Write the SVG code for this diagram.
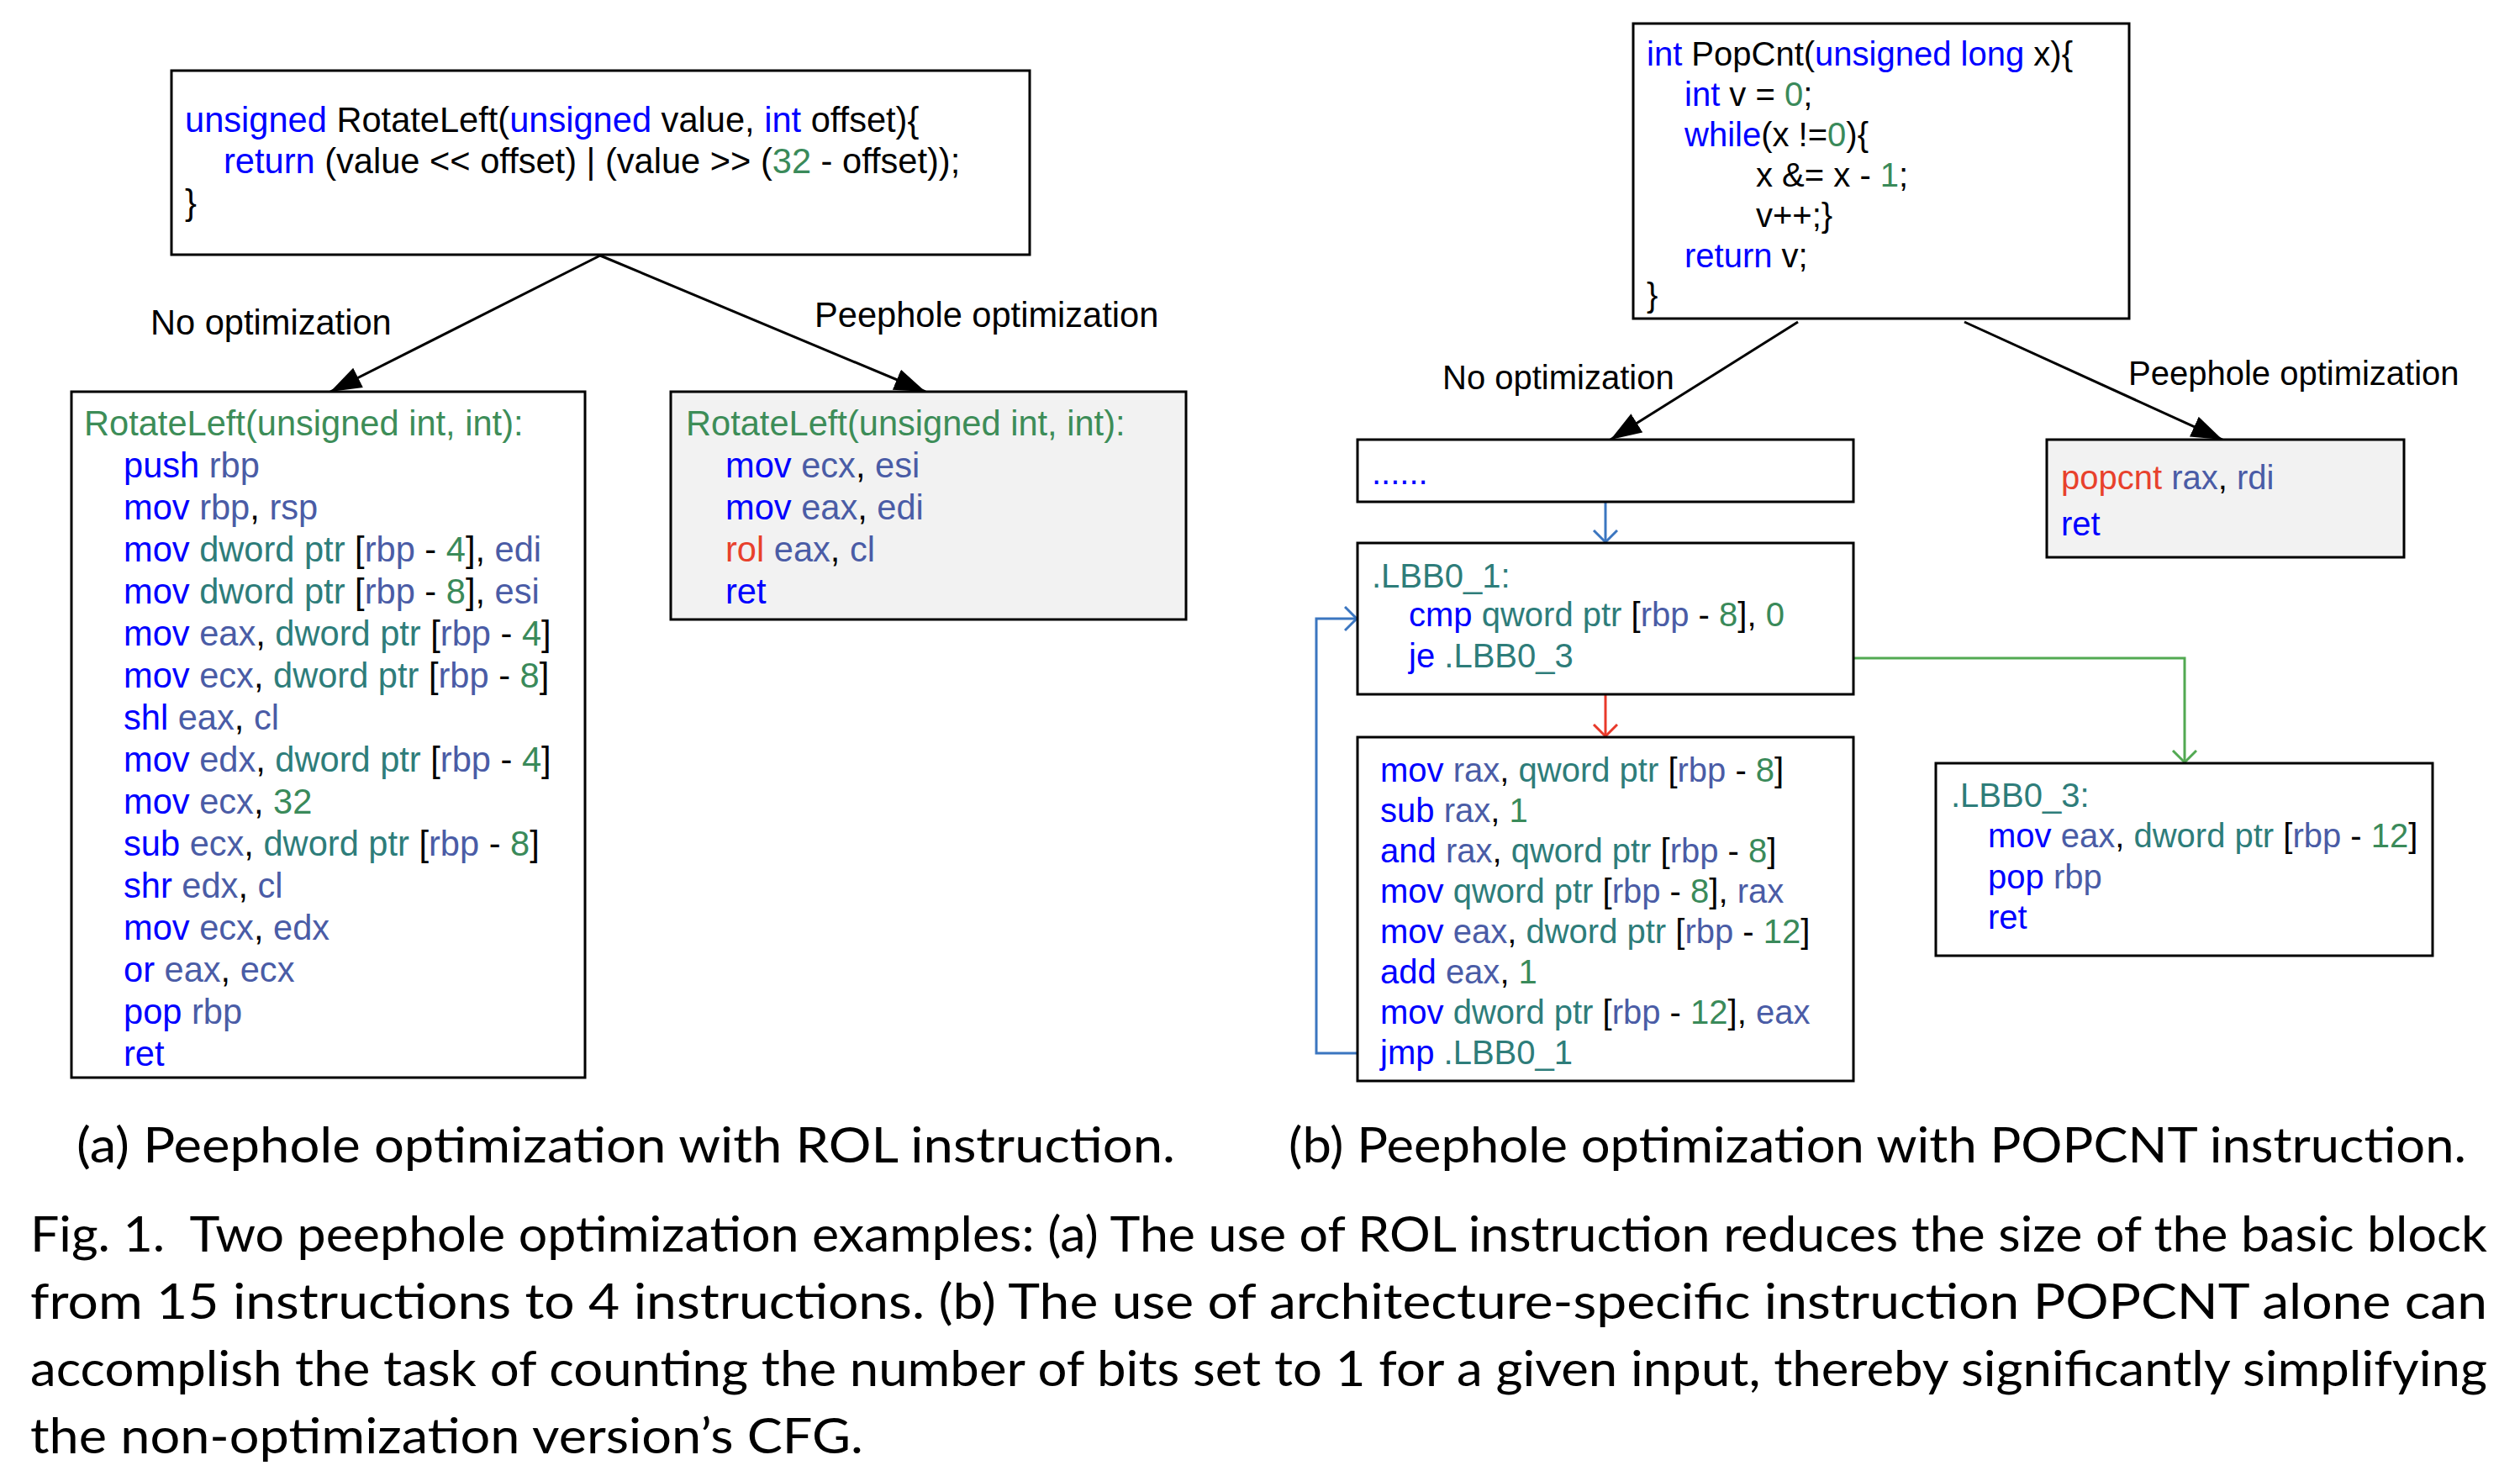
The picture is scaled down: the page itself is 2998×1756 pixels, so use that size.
<svg xmlns="http://www.w3.org/2000/svg" width="2998" height="1756" viewBox="0 0 2998 1756">
<style>
text{font-family:"Liberation Sans",Arial,Helvetica,sans-serif;font-size:41.6px;fill:#000}
.r40 text, text.s40{font-size:40px}
.k{fill:#0000ff}
.g{fill:#4a5ca6}
.n{fill:#3a8a5a}
.t{fill:#2e7d7a}
.h{fill:#3d8d58}
.red{fill:#e8412c}
.box{fill:#fff;stroke:#000;stroke-width:3}
.grey{fill:#f2f2f2}
.cap{font-family:Lato,"Open Sans","Liberation Sans",sans-serif;font-size:58px;fill:#000}
.blk{stroke:#000;stroke-width:3;fill:none}
</style>
<defs>
<marker id="ab" markerUnits="userSpaceOnUse" markerWidth="40" markerHeight="28" refX="37" refY="13" orient="auto"><path d="M0,0 L37,13 L0,26 z" fill="#000"/></marker>
<marker id="vb" markerUnits="userSpaceOnUse" markerWidth="20" markerHeight="32" refX="15" refY="15" orient="auto"><path d="M1,1 L15,15 L1,29" fill="none" stroke="#3b76c0" stroke-width="3"/></marker>
<marker id="vr" markerUnits="userSpaceOnUse" markerWidth="20" markerHeight="32" refX="15" refY="15" orient="auto"><path d="M1,1 L15,15 L1,29" fill="none" stroke="#e8392a" stroke-width="3"/></marker>
<marker id="vg" markerUnits="userSpaceOnUse" markerWidth="20" markerHeight="32" refX="15" refY="15" orient="auto"><path d="M1,1 L15,15 L1,29" fill="none" stroke="#52a952" stroke-width="3"/></marker>
</defs>
<rect width="2998" height="1756" fill="#fff"/>

<g id="connectors">
<line class="blk" x1="714" y1="304" x2="393" y2="466" marker-end="url(#ab)"/>
<line class="blk" x1="714" y1="304" x2="1101" y2="466" marker-end="url(#ab)"/>
<line class="blk" x1="2139" y1="383" x2="1916" y2="523" marker-end="url(#ab)"/>
<line class="blk" x1="2337" y1="383" x2="2644" y2="523" marker-end="url(#ab)"/>
<line x1="1910" y1="597" x2="1910" y2="645" stroke="#3b76c0" stroke-width="3" marker-end="url(#vb)"/>
<line x1="1910" y1="826" x2="1910" y2="876" stroke="#e8392a" stroke-width="3" marker-end="url(#vr)"/>
<polyline points="1615,1253 1566,1253 1566,736 1614,736" fill="none" stroke="#3b76c0" stroke-width="3" marker-end="url(#vb)"/>
<polyline points="2205,783 2599,783 2599,907" fill="none" stroke="#52a952" stroke-width="3" marker-end="url(#vg)"/>
</g>

<g id="edge-labels">
<text x="179" y="398">No optimization</text>
<text x="969" y="389">Peephole optimization</text>
<text x="1716" y="463" class="s40">No optimization</text>
<text x="2532" y="458" class="s40">Peephole optimization</text>
</g>

<g id="src-rotateleft">
<rect class="box" x="204" y="84" width="1021" height="219"/>
<text x="220" y="157"><tspan class="k">unsigned</tspan> RotateLeft(<tspan class="k">unsigned</tspan> value, <tspan class="k">int</tspan> offset){</text>
<text x="266" y="206"><tspan class="k">return</tspan> (value &lt;&lt; offset) | (value &gt;&gt; (<tspan class="n">32</tspan> - offset));</text>
<text x="220" y="255">}</text>
</g>

<g id="asm-noopt-rol">
<rect class="box" x="85" y="466" width="611" height="816"/>
<text x="100" y="518" class="h">RotateLeft(unsigned int, int):</text>
<text x="147" y="568"><tspan class="k">push</tspan> <tspan class="g">rbp</tspan></text>
<text x="147" y="618"><tspan class="k">mov</tspan> <tspan class="g">rbp</tspan>, <tspan class="g">rsp</tspan></text>
<text x="147" y="668"><tspan class="k">mov</tspan> <tspan class="t">dword ptr</tspan> [<tspan class="g">rbp</tspan> - <tspan class="n">4</tspan>], <tspan class="g">edi</tspan></text>
<text x="147" y="718"><tspan class="k">mov</tspan> <tspan class="t">dword ptr</tspan> [<tspan class="g">rbp</tspan> - <tspan class="n">8</tspan>], <tspan class="g">esi</tspan></text>
<text x="147" y="768"><tspan class="k">mov</tspan> <tspan class="g">eax</tspan>, <tspan class="t">dword ptr</tspan> [<tspan class="g">rbp</tspan> - <tspan class="n">4</tspan>]</text>
<text x="147" y="818"><tspan class="k">mov</tspan> <tspan class="g">ecx</tspan>, <tspan class="t">dword ptr</tspan> [<tspan class="g">rbp</tspan> - <tspan class="n">8</tspan>]</text>
<text x="147" y="868"><tspan class="k">shl</tspan> <tspan class="g">eax</tspan>, <tspan class="g">cl</tspan></text>
<text x="147" y="918"><tspan class="k">mov</tspan> <tspan class="g">edx</tspan>, <tspan class="t">dword ptr</tspan> [<tspan class="g">rbp</tspan> - <tspan class="n">4</tspan>]</text>
<text x="147" y="968"><tspan class="k">mov</tspan> <tspan class="g">ecx</tspan>, <tspan class="n">32</tspan></text>
<text x="147" y="1018"><tspan class="k">sub</tspan> <tspan class="g">ecx</tspan>, <tspan class="t">dword ptr</tspan> [<tspan class="g">rbp</tspan> - <tspan class="n">8</tspan>]</text>
<text x="147" y="1068"><tspan class="k">shr</tspan> <tspan class="g">edx</tspan>, <tspan class="g">cl</tspan></text>
<text x="147" y="1118"><tspan class="k">mov</tspan> <tspan class="g">ecx</tspan>, <tspan class="g">edx</tspan></text>
<text x="147" y="1168"><tspan class="k">or</tspan> <tspan class="g">eax</tspan>, <tspan class="g">ecx</tspan></text>
<text x="147" y="1218"><tspan class="k">pop</tspan> <tspan class="g">rbp</tspan></text>
<text x="147" y="1268" class="k">ret</text>
</g>

<g id="asm-peephole-rol">
<rect class="box grey" x="798" y="466" width="613" height="271"/>
<text x="816" y="518" class="h">RotateLeft(unsigned int, int):</text>
<text x="863" y="568"><tspan class="k">mov</tspan> <tspan class="g">ecx</tspan>, <tspan class="g">esi</tspan></text>
<text x="863" y="618"><tspan class="k">mov</tspan> <tspan class="g">eax</tspan>, <tspan class="g">edi</tspan></text>
<text x="863" y="668"><tspan class="red">rol</tspan> <tspan class="g">eax</tspan>, <tspan class="g">cl</tspan></text>
<text x="863" y="718" class="k">ret</text>
</g>

<g class="r40">
<g id="src-popcnt">
<rect class="box" x="1943" y="28" width="590" height="351"/>
<text x="1959" y="78"><tspan class="k">int</tspan> PopCnt(<tspan class="k">unsigned long</tspan> x){</text>
<text x="2004" y="126"><tspan class="k">int</tspan> v = <tspan class="n">0</tspan>;</text>
<text x="2004" y="174"><tspan class="k">while</tspan>(x !=<tspan class="n">0</tspan>){</text>
<text x="2089" y="222">x &amp;= x - <tspan class="n">1</tspan>;</text>
<text x="2089" y="270">v++;}</text>
<text x="2004" y="318"><tspan class="k">return</tspan> v;</text>
<text x="1959" y="365">}</text>
</g>

<g id="asm-noopt-entry">
<rect class="box" x="1615" y="523" width="590" height="74"/>
<text x="1632" y="576" class="k">......</text>
</g>

<g id="asm-peephole-popcnt">
<rect class="box grey" x="2435" y="523" width="425" height="140"/>
<text x="2452" y="582"><tspan class="red">popcnt</tspan> <tspan class="g">rax</tspan>, <tspan class="g">rdi</tspan></text>
<text x="2452" y="637" class="k">ret</text>
</g>

<g id="asm-lbb0-1">
<rect class="box" x="1615" y="646" width="590" height="180"/>
<text x="1632" y="699" class="t">.LBB0_1:</text>
<text x="1676" y="745"><tspan class="k">cmp</tspan> <tspan class="t">qword ptr</tspan> [<tspan class="g">rbp</tspan> - <tspan class="n">8</tspan>], <tspan class="n">0</tspan></text>
<text x="1676" y="794"><tspan class="k">je</tspan> <tspan class="t">.LBB0_3</tspan></text>
</g>

<g id="asm-loop-body">
<rect class="box" x="1615" y="877" width="590" height="409"/>
<text x="1642" y="930"><tspan class="k">mov</tspan> <tspan class="g">rax</tspan>, <tspan class="t">qword ptr</tspan> [<tspan class="g">rbp</tspan> - <tspan class="n">8</tspan>]</text>
<text x="1642" y="978"><tspan class="k">sub</tspan> <tspan class="g">rax</tspan>, <tspan class="n">1</tspan></text>
<text x="1642" y="1026"><tspan class="k">and</tspan> <tspan class="g">rax</tspan>, <tspan class="t">qword ptr</tspan> [<tspan class="g">rbp</tspan> - <tspan class="n">8</tspan>]</text>
<text x="1642" y="1074"><tspan class="k">mov</tspan> <tspan class="t">qword ptr</tspan> [<tspan class="g">rbp</tspan> - <tspan class="n">8</tspan>], <tspan class="g">rax</tspan></text>
<text x="1642" y="1122"><tspan class="k">mov</tspan> <tspan class="g">eax</tspan>, <tspan class="t">dword ptr</tspan> [<tspan class="g">rbp</tspan> - <tspan class="n">12</tspan>]</text>
<text x="1642" y="1170"><tspan class="k">add</tspan> <tspan class="g">eax</tspan>, <tspan class="n">1</tspan></text>
<text x="1642" y="1218"><tspan class="k">mov</tspan> <tspan class="t">dword ptr</tspan> [<tspan class="g">rbp</tspan> - <tspan class="n">12</tspan>], <tspan class="g">eax</tspan></text>
<text x="1642" y="1266"><tspan class="k">jmp</tspan> <tspan class="t">.LBB0_1</tspan></text>
</g>

<g id="asm-lbb0-3">
<rect class="box" x="2303" y="908" width="591" height="229"/>
<text x="2321" y="960" class="t">.LBB0_3:</text>
<text x="2365" y="1008"><tspan class="k">mov</tspan> <tspan class="g">eax</tspan>, <tspan class="t">dword ptr</tspan> [<tspan class="g">rbp</tspan> - <tspan class="n">12</tspan>]</text>
<text x="2365" y="1057"><tspan class="k">pop</tspan> <tspan class="g">rbp</tspan></text>
<text x="2365" y="1105" class="k">ret</text>
</g>
</g>

<g id="captions">
<text class="cap" x="91" y="1383" textLength="1307" lengthAdjust="spacingAndGlyphs">(a) Peephole optimization with ROL instruction.</text>
<text class="cap" x="1533" y="1383" textLength="1401" lengthAdjust="spacingAndGlyphs">(b) Peephole optimization with POPCNT instruction.</text>
<text class="cap" x="36" y="1489" textLength="2923" lengthAdjust="spacingAndGlyphs">Fig. 1.&#160; Two peephole optimization examples: (a) The use of ROL instruction reduces the size of the basic block</text>
<text class="cap" x="36" y="1569" textLength="2923" lengthAdjust="spacingAndGlyphs">from 15 instructions to 4 instructions. (b) The use of architecture-specific instruction POPCNT alone can</text>
<text class="cap" x="36" y="1649" textLength="2923" lengthAdjust="spacingAndGlyphs">accomplish the task of counting the number of bits set to 1 for a given input, thereby significantly simplifying</text>
<text class="cap" x="36" y="1729" textLength="991" lengthAdjust="spacingAndGlyphs">the non-optimization version’s CFG.</text>
</g>
</svg>
